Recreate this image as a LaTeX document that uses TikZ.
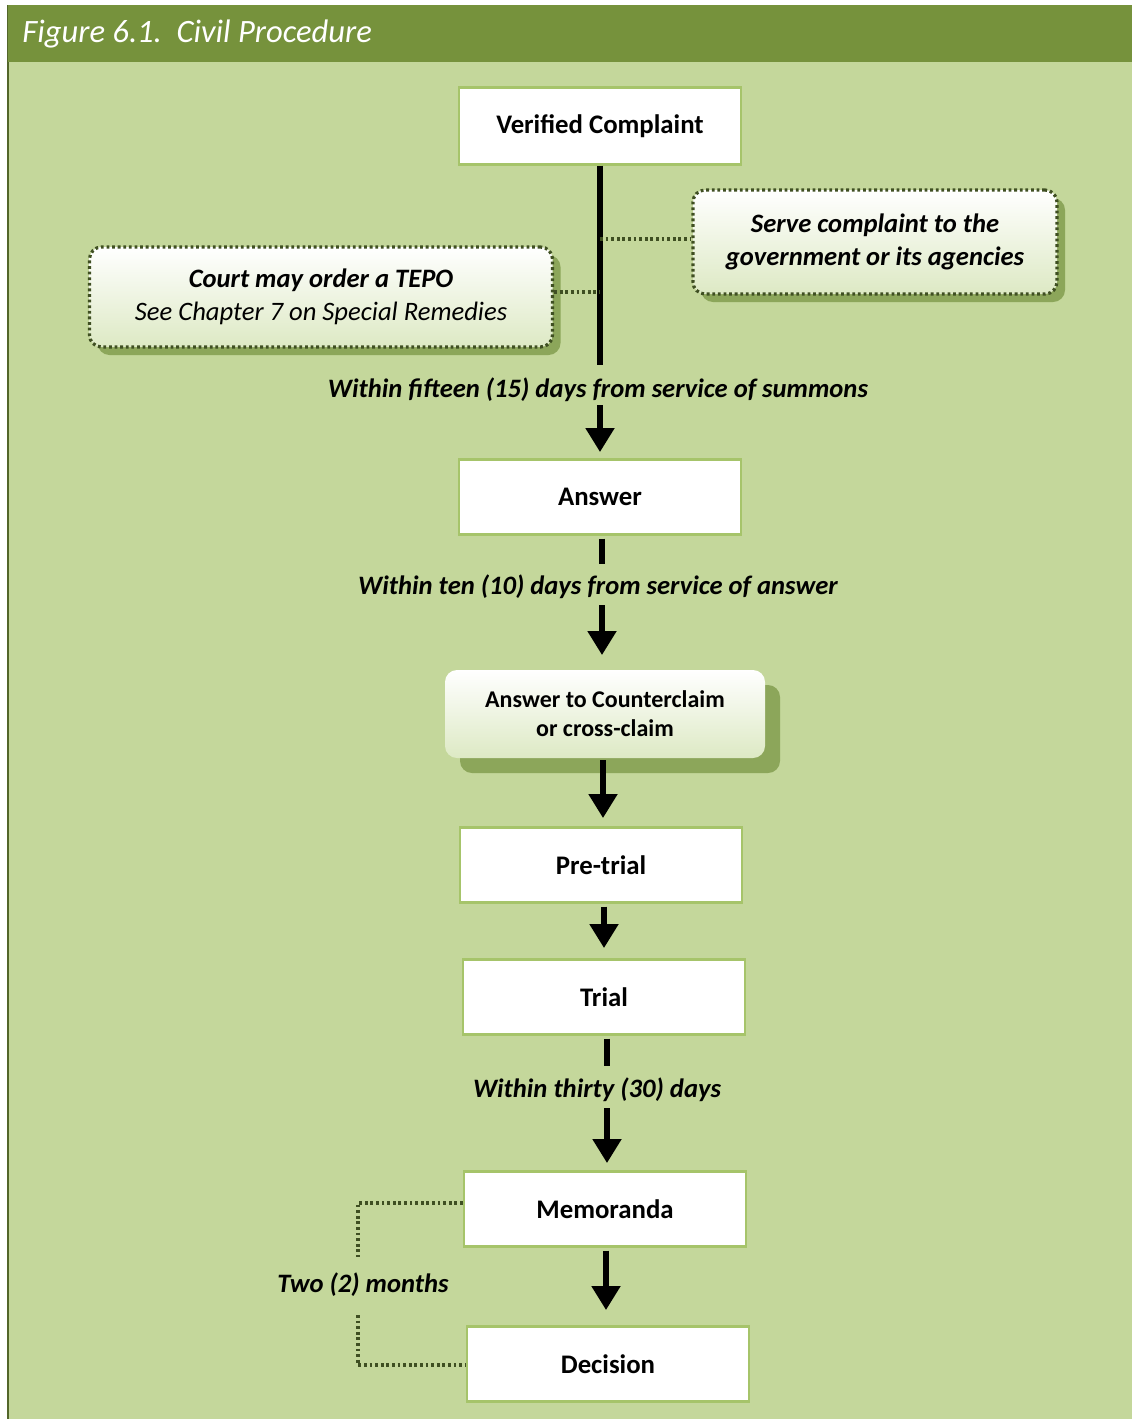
\documentclass[tikz,border=0pt]{standalone}
\usepackage{fontspec}
\setmainfont{Carlito}
\usetikzlibrary{arrows.meta,shadows}
\definecolor{hdr}{HTML}{76923C}
\definecolor{bg}{HTML}{C4D79B}
\definecolor{boxline}{HTML}{A6C46A}
\definecolor{dotc}{HTML}{3F4F22}
\definecolor{shad}{HTML}{8CA65A}
\definecolor{grad}{HTML}{DDE9C4}
\tikzset{
  stepbox/.style={draw=boxline,line width=1.2pt,fill=white,minimum width=141pt,minimum height=37.5pt,font=\bfseries\fontsize{13.4}{15}\selectfont,inner sep=0pt},
  notebox/.style={draw=dotc,line width=1.6pt,dash pattern=on 1.4pt off 1.4pt,rounded corners=6pt,top color=white,bottom color=grad,
     drop shadow={shadow xshift=4pt,shadow yshift=-4pt,fill=shad,opacity=1},align=center,inner sep=0pt,font=\fontsize{13.3}{16.8}\selectfont},
  ccbox/.style={draw=none,rounded corners=6pt,top color=white,bottom color=grad,
     drop shadow={shadow xshift=7.5pt,shadow yshift=-7.5pt,fill=shad,opacity=1},align=center,inner sep=0pt,font=\bfseries\fontsize{12}{14.5}\selectfont,minimum width=160pt,minimum height=44pt},
  lbl/.style={font=\bfseries\itshape\fontsize{13.3}{15}\selectfont,inner sep=0pt},
  thk/.style={line width=2.6pt},
  arr/.style={line width=2.6pt,-{Triangle[width=14pt,length=12pt]}},
  dots/.style={draw=dotc,line width=1.6pt,dash pattern=on 1.4pt off 1.4pt},
}
\begin{document}
\begin{tikzpicture}[x=0.5pt,y=-0.5pt]
\useasboundingbox (0,0) rectangle (1132,1419);
\fill[white] (0,0) rectangle (1132,1419);
\fill[bg] (8,5) rectangle (1132,1419);
\draw[line width=0.8pt,color=hdr!70!black] (8,5) -- (8,1419);
\fill[hdr] (8,5) rectangle (1132,62);
\node[anchor=west,text=white,font=\itshape\fontsize{16.3}{18}\selectfont,inner sep=0pt] (title) at (22,34) {Figure 6.1.\ \ Civil Procedure};

% main boxes
\node[stepbox,minimum height=38.5pt] (vc) at (600,126) {Verified Complaint};
\node[stepbox] (ans) at (600,497) {Answer};
\node[ccbox] (cc) at (605,714) {Answer to Counterclaim\\or cross-claim};
\node[stepbox] (pre) at (601,865) {Pre-trial};
\node[stepbox] (trial) at (604,997) {Trial};
\node[stepbox] (memo) at (605,1209) {Memoranda};
\node[stepbox] (dec) at (608,1364) {Decision};

% side notes
\node[notebox,minimum width=182pt,minimum height=52pt] (serve) at (875,242) {\bfseries\itshape Serve complaint to the\\\bfseries\itshape government or its agencies};
\node[notebox,minimum width=231.5pt,minimum height=50pt] (tepo) at (321,297) {\bfseries\itshape Court may order a TEPO\\\itshape See Chapter 7 on Special Remedies};

% labels
\node[lbl] (l1) at (598,390) {Within fifteen (15) days from service of summons};
\node[lbl] (l2) at (598,587) {Within ten (10) days from service of answer};
\node[lbl] (l3) at (597,1090) {Within thirty (30) days};
\node[lbl] (l4) at (363,1285) {Two (2) months};

% coordinates
\coordinate (a1) at (600,365);
\coordinate (a2) at (600,405);
\coordinate (a3) at (600,452);
\coordinate (s1) at (600,239);
\coordinate (t1) at (600,292);

\draw[thk] (vc.south) -- (a1);
\draw[dots] (s1) -- (serve.west |- s1);
\draw[dots] (tepo.east |- t1) -- (t1);
\draw[arr] (a2) -- (a3);

\draw[thk] (ans.south) ++(2,3) coordinate (b0) -- ++(0,25) coordinate (b1);
\coordinate (b2) at (602,605);
\coordinate (b3) at (602,655);
\draw[arr] (b2) -- (b3);

\draw[arr] (cc.south) ++(-2,2) coordinate (c0) -- (603,818) coordinate (c1);
\draw[arr] (pre.south) ++(3,3) coordinate (d0) -- (604,948) coordinate (d1);

\draw[thk] (trial.south) ++(3,3) coordinate (e0) -- (607,1066) coordinate (e1);
\coordinate (e2) at (607,1108);
\coordinate (e3) at (607,1163);
\draw[arr] (e2) -- (e3);

\draw[arr] (memo.south) ++(1,3) coordinate (f0) -- (606,1310) coordinate (f1);

% bracket
\coordinate (g1) at (358,1203);
\coordinate (g2) at (358,1257);
\coordinate (g3) at (358,1315);
\coordinate (g4) at (358,1365);
\draw[dots] (memo.west |- g1) -- (g1) -- (g2);
\draw[dots] (g3) -- (g4) -- (dec.west |- g4);
\end{tikzpicture}
\end{document}
